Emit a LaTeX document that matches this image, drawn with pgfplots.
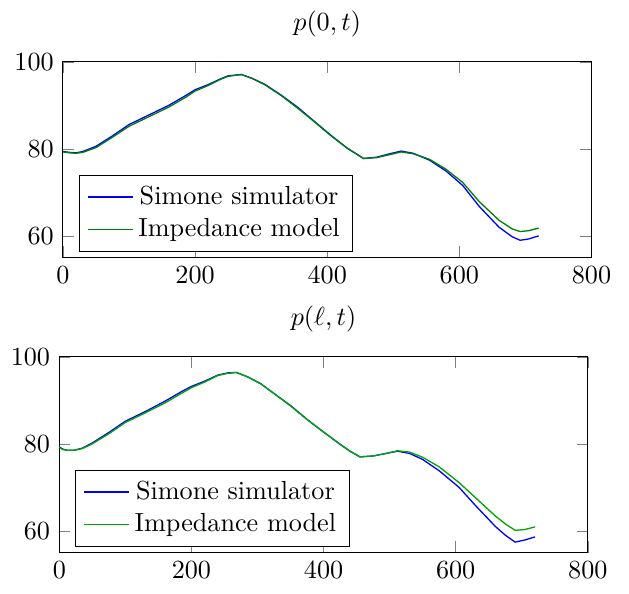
\documentclass[border=0pt]{standalone}
\usepackage{pgfplots}
\pgfplotsset{compat=1.18}

\pgfplotstableread{
t    sim   imp
0    79.4  79.3
10   79.2  79.1
20   79.1  79.0
30   79.4  79.2
50   80.6  80.3
75   83.0  82.7
100  85.6  85.2
130  87.8  87.4
160  90.0  89.6
185  92.2  91.8
200  93.6  93.3
220  94.8  94.6
240  96.2  96.1
250  96.8  96.7
270  97.1  97.1
285  96.3  96.3
305  94.9  94.8
330  92.4  92.3
355  89.6  89.4
380  86.4  86.3
405  83.2  83.1
430  80.2  80.2
455  77.8  77.8
475  78.1  78.0
495  78.9  78.7
512  79.5  79.3
530  79.0  78.9
555  77.4  77.6
580  74.9  75.3
605  71.6  72.3
630  66.8  67.9
660  62.0  63.6
680  59.8  61.6
692  59.0  61.0
705  59.3  61.2
720  60.0  61.8
}\pzero

\pgfplotstableread{
t    sim   imp
0    79.3  79.2
5    78.8  78.7
12   78.5  78.5
22   78.5  78.5
35   79.0  78.9
50   80.2  80.0
75   82.6  82.3
100  85.2  84.9
130  87.4  87.1
160  89.8  89.4
185  92.0  91.6
200  93.2  92.9
220  94.4  94.2
240  95.8  95.7
255  96.3  96.2
268  96.4  96.4
285  95.4  95.4
305  93.8  93.8
330  91.0  91.0
350  88.8  88.7
375  85.6  85.6
400  82.7  82.7
425  79.9  79.9
440  78.3  78.3
455  77.0  77.0
475  77.2  77.2
495  77.8  77.8
512  78.3  78.4
530  77.8  78.1
550  76.4  76.9
575  73.8  74.7
605  70.0  71.1
630  65.8  67.6
660  61.0  63.4
675  59.0  61.6
690  57.4  60.1
705  57.9  60.3
720  58.6  60.9
}\pell

\pgfplotsset{
  pplot/.style={
    scale only axis,
    width=202pt, height=74.8pt,
    xmin=0, xmax=800, ymin=55, ymax=100,
    xtick={0,200,400,600,800},
    ytick={60,80,100},
    legend pos=south west,
    every axis plot/.append style={line width=0.5pt},
  },
}

\begin{document}
\begin{tikzpicture}
\begin{axis}[pplot, title={$p(0,t)$}]
\addplot[blue, no markers] table[x=t, y=sim] {\pzero};
\addlegendentry{Simone simulator}
\addplot[green!50!black, no markers] table[x=t, y=imp] {\pzero};
\addlegendentry{Impedance model}
\end{axis}

\begin{axis}[pplot, title={$p(\ell,t)$}, at={(-1.4pt,-112.7pt)}]
\addplot[blue, no markers] table[x=t, y=sim] {\pell};
\addlegendentry{Simone simulator}
\addplot[green!65!black, no markers] table[x=t, y=imp] {\pell};
\addlegendentry{Impedance model}
\end{axis}

\path (current bounding box.south west) +(-0.8pt,-2.5pt)
      (current bounding box.north east) +(3.5pt,0.8pt);
\end{tikzpicture}
\end{document}
